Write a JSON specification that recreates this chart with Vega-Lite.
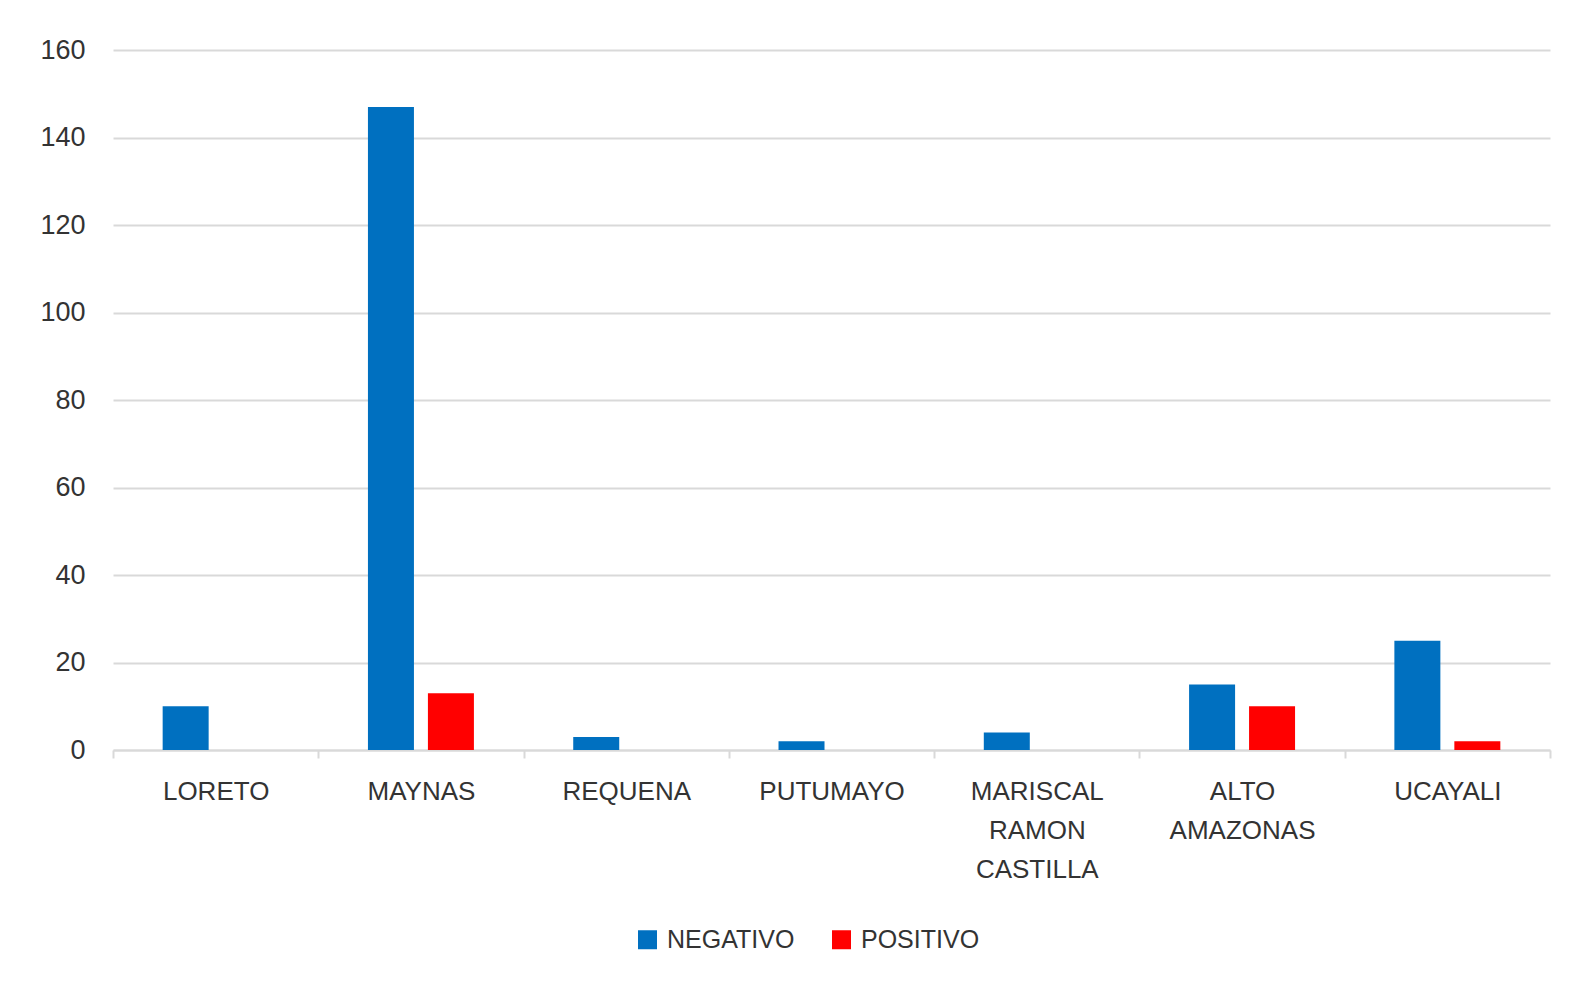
{
  "$schema": "https://vega.github.io/schema/vega-lite/v6.json",
  "autosize": "none",
  "width": 1437,
  "height": 700,
  "padding": {"left": 113, "top": 50, "right": 20, "bottom": 236},
  "background": "white",
  "data": {
    "values": [
      {"provincia": "LORETO", "resultado": "NEGATIVO", "n": 10},
      {"provincia": "LORETO", "resultado": "POSITIVO", "n": 0},
      {"provincia": "MAYNAS", "resultado": "NEGATIVO", "n": 147},
      {"provincia": "MAYNAS", "resultado": "POSITIVO", "n": 13},
      {"provincia": "REQUENA", "resultado": "NEGATIVO", "n": 3},
      {"provincia": "REQUENA", "resultado": "POSITIVO", "n": 0},
      {"provincia": "PUTUMAYO", "resultado": "NEGATIVO", "n": 2},
      {"provincia": "PUTUMAYO", "resultado": "POSITIVO", "n": 0},
      {"provincia": "MARISCAL RAMON CASTILLA", "resultado": "NEGATIVO", "n": 4},
      {"provincia": "MARISCAL RAMON CASTILLA", "resultado": "POSITIVO", "n": 0},
      {"provincia": "ALTO AMAZONAS", "resultado": "NEGATIVO", "n": 15},
      {"provincia": "ALTO AMAZONAS", "resultado": "POSITIVO", "n": 10},
      {"provincia": "UCAYALI", "resultado": "NEGATIVO", "n": 25},
      {"provincia": "UCAYALI", "resultado": "POSITIVO", "n": 2}
    ]
  },
  "mark": {"type": "bar"},
  "encoding": {
    "x": {
      "field": "provincia",
      "type": "nominal",
      "sort": null,
      "title": null,
      "scale": {"paddingInner": 0, "paddingOuter": 0},
      "axis": {
        "labelAngle": 0,
        "labelExpr": "split(datum.label, ' ')",
        "labelFont": "Liberation Sans",
        "labelFontSize": 26,
        "labelColor": "#333333",
        "labelLineHeight": 39,
        "labelPadding": 20,
        "labelBaseline": "top",
        "tickBand": "extent",
        "tickSize": 8,
        "tickColor": "#d9d9d9",
        "tickWidth": 2,
        "domainColor": "#d9d9d9",
        "domainWidth": 2,
        "grid": false
      }
    },
    "xOffset": {
      "field": "resultado",
      "type": "nominal",
      "scale": {"paddingInner": 0.233, "paddingOuter": 0.828}
    },
    "y": {
      "field": "n",
      "type": "quantitative",
      "title": null,
      "scale": {"domain": [0, 160]},
      "axis": {
        "values": [0, 20, 40, 60, 80, 100, 120, 140, 160],
        "domain": false,
        "ticks": false,
        "labelFont": "Liberation Sans",
        "labelFontSize": 27,
        "labelColor": "#333333",
        "labelPadding": 28,
        "gridColor": "#d9d9d9",
        "gridWidth": 2
      }
    },
    "color": {
      "field": "resultado",
      "type": "nominal",
      "title": null,
      "scale": {"domain": ["NEGATIVO", "POSITIVO"], "range": ["#0070C0", "#FF0000"]},
      "legend": {
        "orient": "none",
        "direction": "horizontal",
        "legendX": 522,
        "legendY": 877,
        "symbolType": "square",
        "symbolSize": 361,
        "symbolStrokeWidth": 0,
        "labelFont": "Liberation Sans",
        "labelFontSize": 25,
        "labelColor": "#333333",
        "labelOffset": 7,
        "columnPadding": 34
      }
    }
  },
  "config": {"view": {"stroke": null}}
}
